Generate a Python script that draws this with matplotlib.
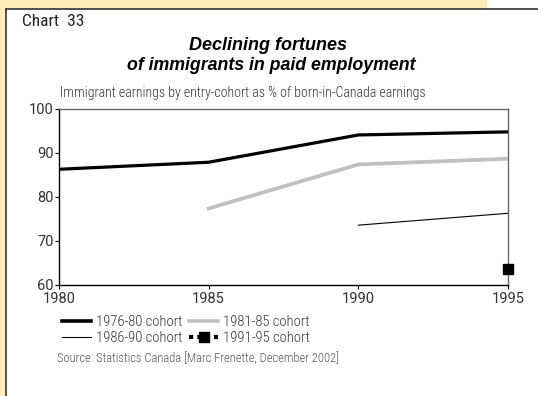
import matplotlib
matplotlib.use("Agg")
import matplotlib.pyplot as plt
from matplotlib.patches import Rectangle
from matplotlib.lines import Line2D

NARROW = ["Roboto Condensed", "Open Sans Condensed", "DejaVu Sans"]
REG = ["Roboto", "DejaVu Sans"]

years = [1980, 1985, 1990, 1995]
c7680_x = [1980, 1985, 1990, 1995]
c7680_y = [86.3, 87.9, 94.1, 94.8]
c8185_x = [1985, 1990, 1995]
c8185_y = [77.4, 87.4, 88.7]
c8690_x = [1990, 1995]
c8690_y = [73.6, 76.3]
c9195_x = [1995]
c9195_y = [63.7]
labels = ["1976-80 cohort", "1981-85 cohort", "1986-90 cohort", "1991-95 cohort"]
yticks = [60, 70, 80, 90, 100]

W, H = 538, 396
fig = plt.figure(figsize=(W / 100, H / 100), dpi=100)
fig.patch.set_facecolor("white")

# background frame
fig.patches.append(Rectangle((0, 0), 5 / W, 1, transform=fig.transFigure, color="#FFEBB8", zorder=0))
fig.patches.append(Rectangle((0, 1 - 8 / H), 486 / W, 8 / H, transform=fig.transFigure, color="#FFEBB8", zorder=0))
fig.lines.append(Line2D([5.5 / W, 1], [1 - 8.5 / H, 1 - 8.5 / H], transform=fig.transFigure, color="#333333", lw=1.2))
fig.lines.append(Line2D([5.5 / W, 5.5 / W], [0, 1 - 8.5 / H], transform=fig.transFigure, color="#333333", lw=1.2))

left, right, top, bottom = 59, 508, 109, 285
ax = fig.add_axes([left / W, 1 - bottom / H, (right - left) / W, (bottom - top) / H])
ax.set_facecolor("white")

ax.plot(c7680_x, c7680_y, color="black", lw=2.3, zorder=4)
ax.plot(c8185_x, c8185_y, color="#C0C0C0", lw=2.7, zorder=3)
ax.plot(c8690_x, c8690_y, color="black", lw=0.8, zorder=3)
ax.plot(c9195_x, c9195_y, color="black", marker="s", ms=7.5, ls="none", zorder=5, clip_on=False)

ax.set_xlim(1980, 1995)
ax.set_ylim(60, 100)
ax.set_xticks(years)
ax.set_yticks(yticks)
for s in ["top", "right"]:
    ax.spines[s].set_color("#666666")
    ax.spines[s].set_linewidth(1.0)
for s in ["left", "bottom"]:
    ax.spines[s].set_color("black")
    ax.spines[s].set_linewidth(1.0)
ax.tick_params(axis="both", direction="out", length=3, width=0.8, labelsize=10.5, colors="black", labelcolor="#333333")
ax.tick_params(axis="x", pad=2)
ax.tick_params(axis="y", pad=1)
for lab in ax.get_xticklabels() + ax.get_yticklabels():
    lab.set_fontfamily(REG)
    lab.set_fontweight("normal")

fig.text(22 / W, 1 - 21 / H, "Chart  33", fontsize=12.5, family=NARROW, va="center", ha="left", color="#222222")
fig.text(268 / W, 1 - 50 / H, "Declining fortunes", fontsize=13, fontweight="bold", fontstyle="italic",
         family="Liberation Sans", ha="center", va="baseline")
fig.text(271 / W, 1 - 70 / H, "of immigrants in paid employment", fontsize=12.8, fontweight="bold", fontstyle="italic",
         family="Liberation Sans", ha="center", va="baseline")
fig.text(243 / W, 1 - 93 / H, "Immigrant earnings by entry-cohort as % of born-in-Canada earnings", fontsize=10,
         family=NARROW, fontweight="light", ha="center", va="center", color="#333333")

handles = [
    Line2D([], [], color="black", lw=2.6),
    Line2D([], [], color="#C0C0C0", lw=2.6),
    Line2D([], [], color="black", lw=0.8),
    Line2D([], [], color="black", lw=3, ls=(0, (1, 1)), marker="s", ms=7),
]
order = [0, 2, 1, 3]
leg = fig.legend([handles[i] for i in order], [labels[i] for i in order], ncol=2,
                 loc="upper left", bbox_to_anchor=(62 / W, 1 - 315 / H), frameon=False,
                 prop={"family": NARROW, "size": 10.5, "weight": "light"}, handlelength=2.0, handletextpad=0.3,
                 columnspacing=0.5, labelspacing=0.15, borderpad=0, borderaxespad=0)
for t in leg.get_texts():
    t.set_color("#333333")

fig.text(57 / W, 1 - 359 / H, "Source: Statistics Canada [Marc Frenette, December 2002]", fontsize=9,
         family=NARROW, fontweight="light", ha="left", va="center", color="#555555")

fig.savefig("out.png", dpi=100, facecolor="white")
